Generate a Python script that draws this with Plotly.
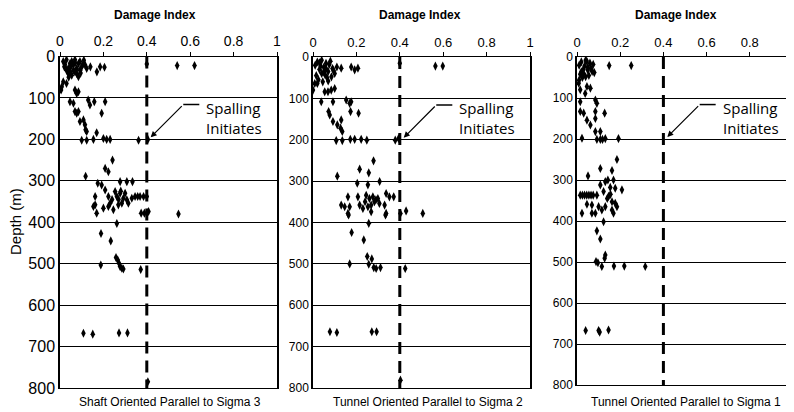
import plotly.graph_objects as go

W, H = 794, 412
OFF = 8                      # the page body adds an 8px margin
FW, FH = W - OFF, H - OFF    # figure size that fits inside the window

# ---- data (damage index vs depth in m) ----
shaft_damage = [0.015, 0.023, 0.03, 0.038, 0.046, 0.054, 0.062, 0.069, 0.077, 0.085,
                0.092, 0.10, 0.108, 0.115, 0.123, 0.038, 0.054, 0.069, 0.085, 0.046,
                0.03, 0.062, 0.077, 0.092, 0.02, 0.05, 0.07, 0.095, 0.11, 0.04,
                0.015, 0.008, 0.03, 0.005, 0.069, 0.077, 0.085,
                0.14, 0.17, 0.185, 0.205, 0.40, 0.54, 0.62,
                0.046, 0.062, 0.13, 0.138, 0.158, 0.208,
                0.069, 0.077, 0.085, 0.192,
                0.092, 0.108, 0.115, 0.118, 0.123, 0.169,
                0.10, 0.123, 0.154, 0.20, 0.215, 0.231, 0.362, 0.405,
                0.242, 0.208, 0.223, 0.118,
                0.174, 0.192, 0.277, 0.308, 0.334,
                0.208, 0.162, 0.223, 0.254, 0.262, 0.277, 0.292, 0.30, 0.308, 0.285,
                0.269, 0.231, 0.223, 0.246, 0.20, 0.162, 0.154, 0.169, 0.331, 0.346,
                0.358, 0.369, 0.385, 0.40, 0.315, 0.27, 0.24, 0.28,
                0.374, 0.389, 0.408, 0.546,
                0.262, 0.189, 0.234,
                0.258, 0.266, 0.272, 0.277, 0.285, 0.292, 0.188, 0.372,
                0.108, 0.151, 0.272, 0.311, 0.405]
shaft_depth = [12, 20, 8, 29, 17, 12, 20, 8, 29, 17,
               12, 25, 17, 20, 29, 41, 45, 37, 49, 37,
               33, 33, 41, 33, 25, 24, 15, 40, 9, 50,
               61, 73, 65, 81, 81, 89, 85,
               25, 37, 25, 26, 18, 22, 22,
               109, 113, 105, 117, 109, 109,
               133, 137, 133, 137,
               157, 153, 165, 177, 181, 184,
               202, 202, 200, 198, 200, 200, 202, 200,
               250, 270, 278, 289,
               306, 310, 302, 302, 302,
               322, 338, 338, 326, 338, 330, 342, 330, 346, 354,
               358, 354, 362, 370, 366, 358, 362, 378, 342, 338,
               338, 338, 338, 338, 354, 345, 345, 325,
               378, 378, 374, 380,
               403, 427, 445,
               485, 491, 499, 507, 511, 513, 503, 514,
               668, 670, 667, 667, 785]

sigma2_damage = [0.01, 0.02, 0.03, 0.04, 0.05, 0.06, 0.07, 0.08, 0.09, 0.10,
                 0.015, 0.035, 0.055, 0.075, 0.095, 0.025, 0.045, 0.065, 0.085, 0.11,
                 0.02, 0.05, 0.07, 0.04, 0.06, 0.03,
                 0.13, 0.176, 0.192, 0.207, 0.40, 0.564, 0.598,
                 0.0, 0.008, 0.054, 0.069, 0.084, 0.10,
                 0.038, 0.092, 0.153, 0.169, 0.176, 0.173, 0.21,
                 0.072, 0.077, 0.092, 0.112, 0.13, 0.127, 0.135,
                 0.107, 0.135, 0.172, 0.192, 0.222, 0.248, 0.379, 0.394,
                 0.279, 0.215, 0.257, 0.112,
                 0.204, 0.307, 0.253,
                 0.207, 0.245, 0.26, 0.276, 0.283, 0.299, 0.306, 0.268, 0.253, 0.23,
                 0.215, 0.161, 0.169, 0.13, 0.146, 0.161, 0.337, 0.352, 0.372, 0.33,
                 0.337, 0.268, 0.29, 0.24,
                 0.403, 0.429, 0.506, 0.164, 0.334,
                 0.257, 0.178, 0.234,
                 0.25, 0.271, 0.257, 0.28, 0.291, 0.311, 0.169, 0.425,
                 0.078, 0.11, 0.271, 0.293, 0.403]
sigma2_depth = [20, 12, 30, 8, 25, 15, 35, 10, 28, 40,
                45, 22, 42, 18, 33, 55, 60, 50, 48, 24,
                64, 36, 58, 40, 28, 14,
                27, 24, 31, 27, 15, 22, 22,
                80, 64, 84, 84, 80, 76,
                108, 108, 104, 112, 108, 132, 136,
                132, 140, 156, 164, 152, 172, 180,
                202, 202, 199, 199, 199, 201, 201, 197,
                251, 271, 280, 288,
                305, 301, 309,
                338, 334, 342, 338, 350, 342, 354, 358, 362, 366,
                358, 338, 362, 358, 362, 378, 330, 338, 338, 358,
                378, 374, 345, 350,
                378, 372, 378, 382, 382,
                402, 424, 442,
                482, 488, 501, 509, 511, 509, 500, 511,
                664, 666, 664, 664, 781]

sigma1_damage = [0.01, 0.02, 0.03, 0.04, 0.05, 0.06, 0.07, 0.015, 0.035, 0.055,
                 0.075, 0.025, 0.045, 0.065, 0.08, 0.01, 0.03, 0.05, 0.02, 0.04,
                 0.149, 0.251,
                 0.008, 0.015, 0.046, 0.062, 0.038,
                 0.015, 0.085, 0.092, 0.085, 0.128,
                 0.015, 0.031, 0.046, 0.062, 0.085, 0.108, 0.085,
                 0.023, 0.092, 0.108, 0.118, 0.131, 0.192,
                 0.185, 0.108, 0.162, 0.051,
                 0.143, 0.131, 0.169, 0.108, 0.154,
                 0.015, 0.025, 0.035, 0.045, 0.055, 0.065, 0.075, 0.092,
                 0.123, 0.177, 0.208, 0.146, 0.162, 0.177, 0.131, 0.185, 0.10, 0.069,
                 0.046, 0.023, 0.069, 0.085, 0.162, 0.169, 0.115, 0.14, 0.155,
                 0.123, 0.092, 0.108,
                 0.131, 0.128, 0.088, 0.097, 0.115, 0.171, 0.219, 0.316,
                 0.04, 0.10, 0.105, 0.146]
sigma1_depth = [20, 12, 30, 8, 25, 15, 35, 42, 22, 45,
                18, 50, 10, 28, 38, 56, 40, 32, 36, 48,
                21, 21,
                64, 80, 72, 76, 89,
                109, 105, 113, 133, 137,
                133, 137, 154, 166, 150, 182, 182,
                198, 201, 201, 201, 199, 199,
                250, 272, 277, 290,
                300, 304, 300, 312, 318,
                337, 337, 337, 337, 337, 337, 337, 337,
                328, 320, 324, 340, 353, 357, 365, 365, 365, 361,
                359, 381, 381, 381, 373, 381, 373, 345, 335,
                402, 424, 444,
                483, 491, 499, 502, 511, 510, 510, 511,
                667, 667, 671, 666]

captions = ["Shaft Oriented Parallel to Sigma 3",
            "Tunnel Oriented Parallel to Sigma 2",
            "Tunnel Oriented Parallel to Sigma 1"]
spalling_limit = 0.4
depth_ticks = [0, 100, 200, 300, 400, 500, 600, 700, 800]


def px(x):
    return (x - OFF) / FW


def py(y):
    return 1 - (y - OFF) / FH


# pixel boxes (in the 794x412 window) of the three panels: (left, right, top, bottom)
boxes = [(60, 277, 56.5, 388), (313, 530, 57, 388), (577, 793, 57, 385)]
tick_fonts = [dict(x=14, y=16), dict(x=13, y=12), dict(x=13, y=12)]
title_cx = [155, 420, 676]
caption_cx = [170, 428, 686]

series = [(shaft_damage, shaft_depth), (sigma2_damage, sigma2_depth),
          (sigma1_damage, sigma1_depth)]

fig = go.Figure()
font_main = "Liberation Sans, Arial, sans-serif"

for i, ((dmg, dep), box) in enumerate(zip(series, boxes)):
    n = "" if i == 0 else str(i + 1)
    xa, ya = "x" + n, "y" + n
    l, r, t, b = box
    fig.add_trace(go.Scatter(
        x=dmg, y=dep, mode="markers", xaxis=xa, yaxis=ya, showlegend=False,
        marker=dict(symbol="diamond-tall", size=6.5, color="black")
    ))
    xvals = [0, 0.2, 0.4, 0.6, 0.8, 1] if i < 2 else [0, 0.2, 0.4, 0.6, 0.8]
    fig.update_layout(**{
        "xaxis" + n: dict(
            domain=[px(l), min(px(r), 1)], range=[0, 1], side="top", anchor=ya,
            automargin=False,
            tickvals=xvals, ticktext=[f"{v:g}" for v in xvals],
            showgrid=False, zeroline=False, showline=True, mirror=True,
            linecolor="black", linewidth=1, ticks="outside", ticklen=4,
            tickcolor="black", tickfont=dict(size=tick_fonts[i]["x"], color="black",
                                             family=font_main)),
        "yaxis" + n: dict(
            domain=[py(b), py(t)], range=[800, 0], anchor=xa,
            automargin=False,
            tickvals=depth_ticks, showgrid=True, gridcolor="black", gridwidth=1,
            zeroline=False, showline=True, mirror=True, linecolor="black",
            linewidth=1.5, ticks="", tickfont=dict(size=tick_fonts[i]["y"],
                                                  color="black", family=font_main)),
    })
    # spalling threshold line
    fig.add_shape(type="line", xref=xa, yref=ya, x0=spalling_limit, x1=spalling_limit,
                  y0=0, y1=800, line=dict(color="black", width=3, dash="12px,7px"))
    # arrow + elbow
    fig.add_annotation(xref=xa, yref=ya, axref=xa, ayref=ya, x=0.418, y=195,
                       ax=0.568, ay=116, text="", showarrow=True, arrowhead=2,
                       arrowsize=1, arrowwidth=1.2, arrowcolor="black")
    fig.add_shape(type="line", xref=xa, yref=ya, x0=0.568, x1=0.642, y0=116, y1=116,
                  line=dict(color="black", width=1.5))
    fig.add_annotation(xref=xa, yref=ya, x=0.665, y=148, xanchor="left",
                       yanchor="middle", text="Spalling<br>Initiates", showarrow=False,
                       align="left", font=dict(size=15, color="black", family="Open Sans"))
    # titles and captions
    fig.add_annotation(xref="paper", yref="paper", x=px(title_cx[i]), y=py(15),
                       xanchor="center", yanchor="middle",
                       text="<b>Damage Index</b>", showarrow=False,
                       font=dict(size=12, color="black", family=font_main))
    fig.add_annotation(xref="paper", yref="paper", x=px(caption_cx[i]), y=py(402),
                       xanchor="center", yanchor="middle", text=captions[i],
                       showarrow=False,
                       font=dict(size=12, color="black", family=font_main))

fig.add_annotation(xref="paper", yref="paper", x=px(15), y=py(222),
                   xanchor="center", yanchor="middle", text="Depth (m)",
                   textangle=-90, showarrow=False,
                   font=dict(size=15, color="black", family=font_main))

fig.update_layout(width=FW, height=FH,
                  margin=dict(l=0, r=0, t=0, b=0, autoexpand=False),
                  paper_bgcolor="white", plot_bgcolor="white")

fig.write_html("out.html")
